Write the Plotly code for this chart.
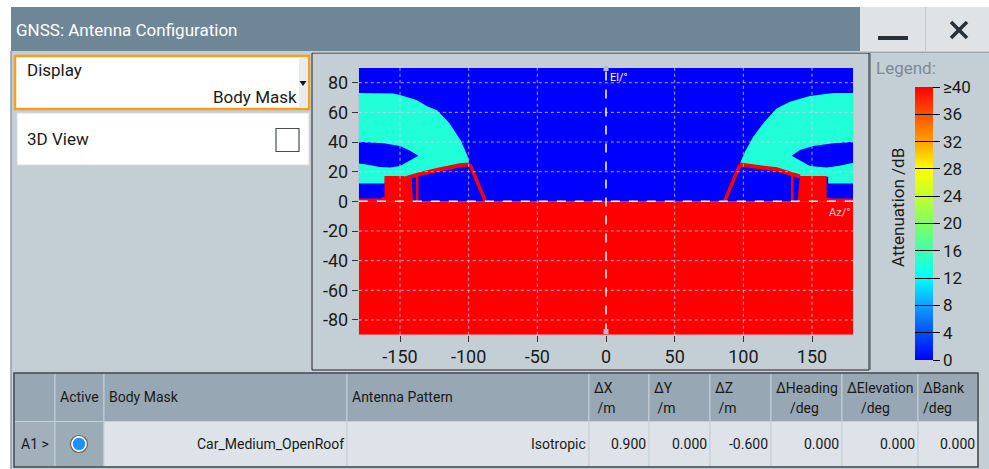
import plotly.graph_objects as go
from plotly.colors import sample_colorscale

W, H = 989, 469
FONT = "Roboto"

# ---- chart data (azimuth / elevation in degrees, attenuation in dB) ----
AZ_TICKS = [-150, -100, -50, 0, 50, 100, 150]
EL_TICKS = [-80, -60, -40, -20, 0, 20, 40, 60, 80]
ATT_TICKS = [0, 4, 8, 12, 16, 20, 24, 28, 32, 36, 40]
ATT_LABELS = ["0", "4", "8", "12", "16", "20", "24", "28", "32", "36", "≥40"]

ATT_FREE = 0     # open sky
ATT_SHADE = 14   # partly shadowed
ATT_BODY = 40    # car body

sky_az = [-180, 180, 180, -180]
sky_el = [0, 0, 90, 90]
ground_az = [-180, 180, 180, -180]
ground_el = [-90, -90, 0, 0]

shade_l_az = [-180, -155, -150, -138, -130, -123, -114, -106, -101, -99.5, -106, -113.5, -123, -137, -146, -161, -161, -180]
shade_l_el = [73, 72.8, 71.7, 68.3, 64, 61.5, 52.6, 41.3, 31, 25.2, 24.3, 22.9, 21.1, 18.2, 15, 15, 12, 12]
shade_r_az = [180, 165.5, 148.5, 133.9, 124.2, 114.5, 107.2, 101.2, 97.5, 112, 124.2, 133.9, 141.2, 161.8, 161.8, 180]
shade_r_el = [73, 73, 71, 67.2, 62.7, 52.6, 43.6, 33.4, 25.6, 23.4, 21.6, 18.9, 16.6, 16.6, 12, 12]

gap_l_az = [-180, -162, -150, -142.6, -136.6, -142.6, -150, -157, -165, -172, -180]
gap_l_el = [40.2, 39.1, 37.3, 34.1, 30.8, 27.8, 23.8, 22.9, 23.2, 24.5, 25.6]
gap_r_az = [180, 165.5, 150.9, 141.2, 135.1, 141.2, 148.5, 160.6, 170, 180]
gap_r_el = [40.2, 39.1, 37.3, 34.6, 30.8, 27.8, 23.8, 22.9, 24, 26]

block_l_az = [-180, -163.5, -163.5, -161.3, -161.3, -147.5, -145, -141.5, -140.5]
block_l_el = [0, 0, 3, 3, 17.1, 17.1, 15.5, 15, 0]
block_r_az = [139.5, 140.5, 141.2, 160.6, 160.6, 163.5, 163.5, 180, 180]
block_r_el = [0, 12, 17.1, 17.1, 2.5, 2.5, 2, 2, 0]
strip_l_az = [-180, -163, -163, -180]
strip_l_el = [0, 0, 2, 2]

roof_l_az = [-146.3, -136.6, -123.2, -113.5, -106.3, -99]
roof_l_el = [15.5, 18.2, 21.1, 22.9, 24.3, 24.8]
roof_r_az = [97.5, 112, 124.2, 133.9, 141.2]
roof_r_el = [24.8, 23.4, 21.6, 18.9, 16.8]
pillar_l_az = [-99, -88]
pillar_l_el = [24.8, 0.5]
pillar_r_az = [97.5, 86.6]
pillar_r_el = [24.8, 0.5]
post_l_az = [-137.5, -137.5]
post_l_el = [0, 18.5]
post_r_az = [135.6, 135.6]
post_r_el = [0, 18]

# ---- table data ----
HEAD_TOP = ["", "Active", "Body Mask", "Antenna Pattern", "ΔX", "ΔY", "ΔZ", "ΔHeading", "ΔElevation", "ΔBank"]
HEAD_SUB = ["", "", "", "", "\u00a0/m", "\u00a0/m", "\u00a0/m", "\u00a0\u00a0\u00a0\u00a0/deg", "\u00a0\u00a0\u00a0\u00a0/deg", "/deg"]
ROW = ["A1 >", "", "Car_Medium_OpenRoof", "Isotropic", "0.900", "0.000", "-0.600", "0.000", "0.000", "0.000"]

JET = [[0, "#0000ff"], [0.1, "#0050f5"], [0.2, "#10a0ff"], [0.3, "#00ffff"], [0.4, "#40ffb0"],
       [0.5, "#80ff60"], [0.6, "#c0ff30"], [0.7, "#ffff00"], [0.8, "#ffa000"], [0.9, "#ff5000"], [1, "#ff0000"]]


def att_color(v):
    return sample_colorscale(JET, [v / 40])[0]


def poly(az, el, att):
    c = att_color(att)
    return go.Scatter(x=az, y=el, fill="toself", fillcolor=c, mode="lines",
                      line=dict(width=0, color=c), hoverinfo="skip", showlegend=False)


def edge(az, el, width):
    return go.Scatter(x=az, y=el, mode="lines", line=dict(width=width, color=att_color(ATT_BODY)),
                      hoverinfo="skip", showlegend=False)


traces = [
    poly(sky_az, sky_el, ATT_FREE),
    poly(ground_az, ground_el, ATT_BODY),
    poly(shade_l_az, shade_l_el, ATT_SHADE),
    poly(shade_r_az, shade_r_el, ATT_SHADE),
    poly(gap_l_az, gap_l_el, ATT_FREE),
    poly(gap_r_az, gap_r_el, ATT_FREE),
    poly(strip_l_az, strip_l_el, ATT_BODY),
    poly(block_l_az, block_l_el, ATT_BODY),
    poly(block_r_az, block_r_el, ATT_BODY),
    edge(roof_l_az, roof_l_el, 4),
    edge(roof_r_az, roof_r_el, 4),
    edge(pillar_l_az, pillar_l_el, 3.5),
    edge(pillar_r_az, pillar_r_el, 3.5),
    edge(post_l_az, post_l_el, 2.5),
    edge(post_r_az, post_r_el, 2.5),
]

cbar = dict(x=915 / W, xanchor="left", xpad=0, y=1 - 87 / H, yanchor="top", ypad=0,
            len=273 / H, lenmode="fraction", thickness=18, outlinewidth=0,
            tickvals=ATT_TICKS, ticktext=ATT_LABELS, tickwidth=1, tickcolor="black")
traces.append(go.Scatter(
    x=[0, 0], y=[-200, -200], mode="markers", hoverinfo="skip", showlegend=False,
    marker=dict(color=[0, 40], cmin=0, cmax=40, colorscale=JET, size=1, showscale=True,
                colorbar=dict(cbar, ticks="outside", ticklen=7,
                              tickfont=dict(family=FONT, size=17, color="#1a1a1a")))))
traces.append(go.Scatter(
    x=[0, 0], y=[-200, -200], mode="markers", hoverinfo="skip", showlegend=False,
    marker=dict(color=[0, 40], cmin=0, cmax=40, size=1, showscale=True,
                colorscale=[[0, "rgba(0,0,0,0)"], [1, "rgba(0,0,0,0)"]],
                colorbar=dict(cbar, ticks="inside", ticklen=18, showticklabels=False))))

fig = go.Figure(data=traces)


# ---- helpers in pixel coordinates ----
def rect(x0, y0, x1, y1, fill=None, line=None, lw=0, layer="below"):
    return dict(type="rect", xref="paper", yref="paper", x0=x0 / W, x1=x1 / W, y0=1 - y1 / H, y1=1 - y0 / H,
                fillcolor=fill or "rgba(0,0,0,0)", line=dict(color=line or "rgba(0,0,0,0)", width=lw), layer=layer)


def pline(x0, y0, x1, y1, color, lw, layer="above"):
    return dict(type="line", xref="paper", yref="paper", x0=x0 / W, x1=x1 / W, y0=1 - y0 / H, y1=1 - y1 / H,
                line=dict(color=color, width=lw), layer=layer)


def circle(cx, cy, r, fill, line=None, lw=0):
    return dict(type="circle", xref="paper", yref="paper", x0=(cx - r) / W, x1=(cx + r) / W,
                y0=1 - (cy + r) / H, y1=1 - (cy - r) / H, fillcolor=fill,
                line=dict(color=line or fill, width=lw), layer="above")


def text(px, py, s, size=16, color="#1a1a1a", anchor="left", angle=0):
    return dict(xref="paper", yref="paper", x=px / W, y=1 - py / H, text=s, showarrow=False,
                xanchor=anchor, yanchor="middle", textangle=angle, borderpad=0,
                font=dict(family=FONT, size=size, color=color))


BODY = "#c4cfd5"
shapes = [
    rect(11, 51, 989, 469, fill=BODY),
    pline(11, 51, 11, 469, "#8e9ba3", 1.5, "below"),
    rect(11, 7, 860, 51, fill="#6e8696"),
    rect(860, 7, 925, 51, fill="#dfe3e6"),
    rect(926, 7, 989, 51, fill="#dfe3e6"),
    pline(925.5, 7, 925.5, 51, "#c3c9cd", 1),
    rect(878, 36, 908, 40, fill="#283038"),
    pline(951, 22, 967, 38, "#283038", 3.5),
    pline(951, 38, 967, 22, "#283038", 3.5),
    # display / 3d view widgets
    rect(15, 56, 309, 109, fill="white", line="#f5a01a", lw=2.5),
    rect(299, 58, 307.5, 107.5, fill="#e9ebed"),
    dict(type="path", xref="paper", yref="paper", layer="above", fillcolor="#111", line=dict(width=0),
         path="M %f %f L %f %f L %f %f Z" % (299.5 / W, 1 - 81 / H, 306.5 / W, 1 - 81 / H, 303 / W, 1 - 86 / H)),
    rect(17, 113, 309, 165, fill="white", line="#d6dde1", lw=1),
    rect(276, 128.5, 299, 151.5, fill="white", line="#4a4f53", lw=1.2, layer="above"),
    # plot and legend panels
    rect(312, 53, 869, 370, line="#222", lw=1),
    pline(870, 53, 870, 370, "#55606a", 1.2, "below"),
    pline(312, 52.5, 989, 52.5, "#9aa6ae", 1, "below"),
]

# grid and axis cross drawn over the mask
for az in AZ_TICKS:
    if az != 0:
        shapes.append(dict(type="line", xref="x", yref="y", x0=az, x1=az, y0=-90, y1=90, layer="above",
                           line=dict(color="rgba(205,205,235,0.8)", width=1, dash="dot")))
for el in EL_TICKS:
    if el != 0:
        shapes.append(dict(type="line", xref="x", yref="y", x0=-180, x1=180, y0=el, y1=el, layer="above",
                           line=dict(color="rgba(205,205,235,0.8)", width=1, dash="dot")))
shapes.append(dict(type="line", xref="x", yref="y", x0=0, x1=0, y0=-88.5, y1=90, layer="above",
                   line=dict(color="white", width=1.5, dash="dash")))
shapes.append(dict(type="line", xref="x", yref="y", x0=-180, x1=180, y0=0, y1=0, layer="above",
                   line=dict(color="white", width=1.5, dash="dash")))
shapes.append(rect(603.5, 66, 608.5, 71, fill="#b8b8c8", layer="above"))
shapes.append(rect(603.5, 329, 608.5, 334, fill="#b8b8c8", layer="above"))

# table
COL_EDGES = [14, 55, 104, 347, 589, 649, 710, 771, 842, 918, 978]
ROW_FILLS = ["#a1b0ba", "#9cacb7"] + ["#dde3e8"] * 8
for i in range(len(HEAD_TOP)):
    x0, x1 = COL_EDGES[i], COL_EDGES[i + 1]
    shapes.append(rect(x0, 373, x1, 421.5, fill="#97a7b3", line="#c6d0d7", lw=1))
    shapes.append(rect(x0, 421.5, x1, 467, fill=ROW_FILLS[i], line="#c6d0d7", lw=1))
shapes.append(rect(14, 373, 978, 467, line="#3f464b", lw=1.5, layer="above"))
shapes.append(circle(79, 444, 8.5, "white", "#58636c", 1.2))
shapes.append(circle(79, 444, 6.2, "#1e90ff"))

ann = [
    text(15, 30, "GNSS: Antenna Configuration", 17, "white"),
    text(26, 70, "Display", 17),
    text(298, 97, "Body Mask", 17, anchor="right"),
    text(26, 139, "3D View", 17),
    text(609, 78, "El/°", 11, "white"),
    text(851, 212, "Az/°", 11, "rgba(255,255,255,0.85)", anchor="right"),
    text(875, 68, "Legend:", 17, "#7b8b96"),
    text(898, 208, "Attenuation /dB", 17, anchor="center", angle=-90),
]
for i, (top, sub) in enumerate(zip(HEAD_TOP, HEAD_SUB)):
    x0 = COL_EDGES[i] + 3.5
    if sub:
        ann.append(text(x0, 388, top, 14))
        ann.append(text(x0, 408, sub, 14))
    elif top:
        ann.append(text(x0, 397, top, 14))
for i, val in enumerate(ROW):
    if not val:
        continue
    if i == 0:
        ann.append(text(20, 444, val, 14))
    else:
        ann.append(text(COL_EDGES[i + 1] - 2, 444, val, 14, anchor="right"))

axis_font = dict(family=FONT, size=18, color="#1a1a1a")
fig.update_layout(
    width=W, height=H, margin=dict(l=0, r=0, t=0, b=0),
    paper_bgcolor="white", plot_bgcolor="rgba(0,0,0,0)",
    showlegend=False, shapes=shapes, annotations=ann,
    xaxis=dict(domain=[358.8 / W, 853.2 / W], range=[-180, 180], tickvals=AZ_TICKS,
               ticktext=[str(v) for v in AZ_TICKS],
               ticks="outside", ticklen=6, tickcolor="#333", showgrid=False, zeroline=False,
               showline=False, tickfont=axis_font, fixedrange=True),
    yaxis=dict(domain=[1 - 334.8 / H, 1 - 67.9 / H], range=[-90, 90], tickvals=EL_TICKS,
               ticktext=[str(v) for v in EL_TICKS],
               ticks="outside", ticklen=6, tickcolor="#333", showgrid=False, zeroline=False,
               showline=False, tickfont=axis_font, fixedrange=True),
)

# the page body has a default 8px margin; remove it so the figure fills the window
fig.write_html("out.html", config={"displayModeBar": False},
               post_script="document.body.style.margin='0';document.body.style.overflow='hidden';")
